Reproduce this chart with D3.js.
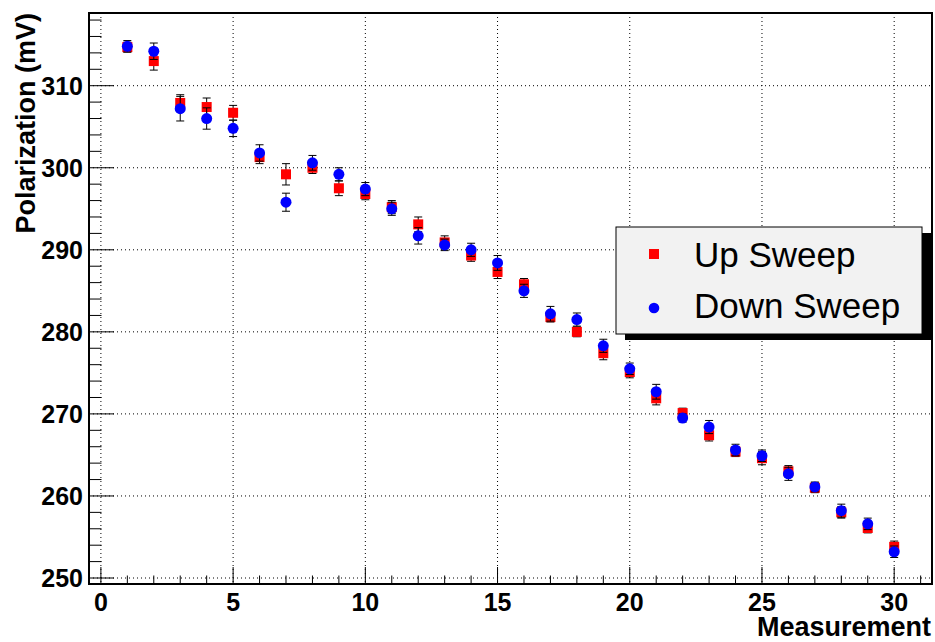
<!DOCTYPE html>
<html>
<head>
<meta charset="utf-8">
<script src="https://cdn.jsdelivr.net/npm/d3@7"></script>
<style>
  body { margin: 0; background: #fff; }
  text { font-family: "Liberation Sans", Arial, sans-serif; }
  .tick-label { font-weight: bold; font-size: 25px; }
  .axis-title { font-weight: bold; font-size: 27px; }
  .grid { stroke: #000; stroke-width: 1; stroke-dasharray: 1,3; }
</style>
</head>
<body>
<div id="vis"></div>
<script>
// data
const MEASUREMENT = d3.range(1, 31);

const UP_SWEEP = [314.7, 313.0, 307.9, 307.4, 306.7, 301.3, 299.2, 300.0, 297.5, 296.8,
                  295.2, 293.1, 290.9, 289.3, 287.3, 285.8, 281.8, 280.0, 277.4, 275.1,
                  271.9, 270.1, 267.4, 265.4, 264.6, 263.0, 261.0, 258.0, 256.1, 253.8];
const UP_ERR = [0.6, 1.1, 1.0, 1.1, 0.9, 0.8, 1.3, 0.7, 0.9, 0.7,
                0.8, 0.9, 0.8, 0.7, 0.8, 0.7, 0.6, 0.6, 0.8, 0.7,
                0.8, 0.6, 0.7, 0.6, 0.8, 0.7, 0.6, 0.7, 0.6, 0.7];

const DOWN_SWEEP = [314.8, 314.2, 307.2, 306.0, 304.8, 301.8, 295.8, 300.6, 299.2, 297.4,
                    295.0, 291.7, 290.6, 290.0, 288.4, 285.0, 282.2, 281.5, 278.3, 275.5,
                    272.7, 269.5, 268.4, 265.6, 264.9, 262.7, 261.1, 258.2, 256.6, 253.2];
const DOWN_ERR = [0.7, 1.0, 1.5, 1.3, 1.0, 1.0, 1.1, 0.9, 0.8, 0.8,
                  0.8, 1.0, 0.7, 0.8, 0.9, 0.8, 0.9, 0.8, 0.8, 0.7,
                  0.9, 0.5, 0.8, 0.7, 0.7, 0.8, 0.6, 0.8, 0.7, 0.7];

const X_TICKS = [0, 5, 10, 15, 20, 25, 30];
const Y_TICKS = [250, 260, 270, 280, 290, 300, 310];
const LEGEND_LABELS = ["Up Sweep", "Down Sweep"];

// frame
const FRAME_WIDTH = 935;
const FRAME_HEIGHT = 642;
const PLOT = {left: 89, right: 932, top: 13, bottom: 584};

const svg = d3.select("#vis")
  .append("svg")
    .attr("width", FRAME_WIDTH)
    .attr("height", FRAME_HEIGHT);

const X_SCALE = d3.scaleLinear()
  .domain([-0.45, 31.43])
  .range([PLOT.left, PLOT.right]);

const Y_SCALE = d3.scaleLinear()
  .domain([249.27, 318.86])
  .range([PLOT.bottom, PLOT.top]);

// dotted grid at the major ticks
svg.selectAll(".xgrid")
  .data(X_TICKS)
  .enter()
  .append("line")
    .attr("class", "grid")
    .attr("x1", (d) => X_SCALE(d)).attr("x2", (d) => X_SCALE(d))
    .attr("y1", PLOT.top).attr("y2", PLOT.bottom);

svg.selectAll(".ygrid")
  .data(Y_TICKS)
  .enter()
  .append("line")
    .attr("class", "grid")
    .attr("x1", PLOT.left).attr("x2", PLOT.right)
    .attr("y1", (d) => Y_SCALE(d)).attr("y2", (d) => Y_SCALE(d));

// x axis ticks (pointing up into the plot)
const xMinor = d3.range(0, 32, 1);
svg.selectAll(".xtick")
  .data(xMinor)
  .enter()
  .append("line")
    .attr("x1", (d) => X_SCALE(d)).attr("x2", (d) => X_SCALE(d))
    .attr("y1", PLOT.bottom)
    .attr("y2", (d) => PLOT.bottom - (d % 5 === 0 ? 17 : 8.5))
    .attr("stroke", "#000");

svg.selectAll(".xlabel")
  .data(X_TICKS)
  .enter()
  .append("text")
    .attr("class", "tick-label")
    .attr("x", (d) => X_SCALE(d))
    .attr("y", 611)
    .attr("text-anchor", "middle")
    .text((d) => d);

// y axis ticks (pointing right into the plot)
const yMinor = d3.range(250, 319, 2);
svg.selectAll(".ytick")
  .data(yMinor)
  .enter()
  .append("line")
    .attr("x1", PLOT.left)
    .attr("x2", (d) => PLOT.left + (d % 10 === 0 ? 25 : 12.5))
    .attr("y1", (d) => Y_SCALE(d)).attr("y2", (d) => Y_SCALE(d))
    .attr("stroke", "#000");

svg.selectAll(".ylabel")
  .data(Y_TICKS)
  .enter()
  .append("text")
    .attr("class", "tick-label")
    .attr("x", 83)
    .attr("y", (d) => Y_SCALE(d) + 9)
    .attr("text-anchor", "end")
    .text((d) => d);

// axis titles
svg.append("text")
  .attr("class", "axis-title")
  .attr("x", 931)
  .attr("y", 636)
  .attr("text-anchor", "end")
  .text("Measurement");

svg.append("text")
  .attr("class", "axis-title")
  .attr("transform", "translate(35," + PLOT.top + ") rotate(-90)")
  .attr("text-anchor", "end")
  .text("Polarization (mV)");

// build the two series
const upData = MEASUREMENT.map((m, i) => ({x: m, y: UP_SWEEP[i], e: UP_ERR[i]}));
const downData = MEASUREMENT.map((m, i) => ({x: m, y: DOWN_SWEEP[i], e: DOWN_ERR[i]}));

function drawErrors(data, cls) {
  const g = svg.append("g").attr("stroke", "#000").attr("stroke-width", 1);
  g.selectAll("." + cls)
    .data(data)
    .enter()
    .append("line")
      .attr("x1", (d) => X_SCALE(d.x)).attr("x2", (d) => X_SCALE(d.x))
      .attr("y1", (d) => Y_SCALE(d.y - d.e)).attr("y2", (d) => Y_SCALE(d.y + d.e));
  // end caps
  [-1, 1].forEach((s) => {
    g.selectAll(".cap" + s)
      .data(data)
      .enter()
      .append("line")
        .attr("x1", (d) => X_SCALE(d.x) - 4).attr("x2", (d) => X_SCALE(d.x) + 4)
        .attr("y1", (d) => Y_SCALE(d.y + s * d.e)).attr("y2", (d) => Y_SCALE(d.y + s * d.e));
  });
}

// up sweep: red squares
drawErrors(upData, "uperr");
svg.selectAll(".up")
  .data(upData)
  .enter()
  .append("rect")
    .attr("x", (d) => X_SCALE(d.x) - 5)
    .attr("y", (d) => Y_SCALE(d.y) - 5)
    .attr("width", 10)
    .attr("height", 10)
    .attr("fill", "#ff0000");

// down sweep: blue circles
drawErrors(downData, "downerr");
svg.selectAll(".down")
  .data(downData)
  .enter()
  .append("circle")
    .attr("cx", (d) => X_SCALE(d.x))
    .attr("cy", (d) => Y_SCALE(d.y))
    .attr("r", 5.5)
    .attr("fill", "#0000ff");

// frame border
svg.append("rect")
  .attr("x", PLOT.left).attr("y", PLOT.top)
  .attr("width", PLOT.right - PLOT.left)
  .attr("height", PLOT.bottom - PLOT.top)
  .attr("fill", "none")
  .attr("stroke", "#000")
  .attr("stroke-width", 2);

// legend with shadow
const LEG = {x: 616, y: 227, w: 306, h: 107};
svg.append("rect")
  .attr("x", LEG.x + 9).attr("y", LEG.y + 6)
  .attr("width", LEG.w).attr("height", LEG.h)
  .attr("fill", "#000");
svg.append("rect")
  .attr("x", LEG.x).attr("y", LEG.y)
  .attr("width", LEG.w).attr("height", LEG.h)
  .attr("fill", "#f2f2f2")
  .attr("stroke", "#000")
  .attr("stroke-width", 1);

svg.append("rect")
  .attr("x", 649).attr("y", 249)
  .attr("width", 10).attr("height", 10)
  .attr("fill", "#ff0000");
svg.append("circle")
  .attr("cx", 654).attr("cy", 308)
  .attr("r", 5.3)
  .attr("fill", "#0000ff");

svg.selectAll(".legtext")
  .data(LEGEND_LABELS)
  .enter()
  .append("text")
    .attr("x", 694)
    .attr("y", (d, i) => 267 + i * 51)
    .attr("font-size", "35px")
    .text((d) => d);
</script>
</body>
</html>
